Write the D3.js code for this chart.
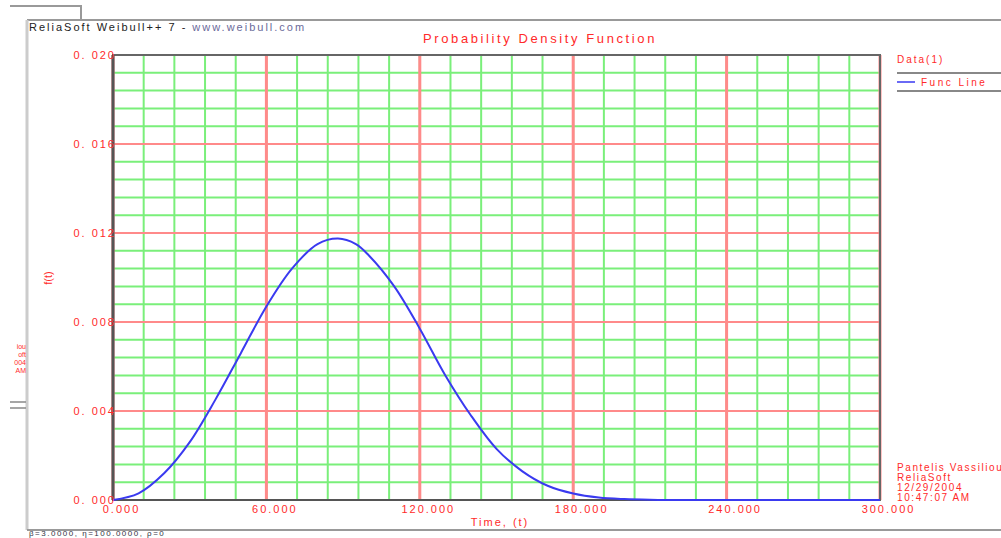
<!DOCTYPE html>
<html>
<head>
<meta charset="utf-8">
<script src="https://cdn.jsdelivr.net/npm/d3@7"></script>
<style>
  body { margin: 0; background: #fff; overflow: hidden; }
  text { font-family: "Liberation Sans", Arial, sans-serif; }
</style>
</head>
<body>
<div id="chart"></div>
<script>
// time values (t)
var times = [0, 10, 20, 30, 40, 50, 60, 70, 80, 88, 95, 100, 110, 120, 130, 140, 150,
             160, 170, 180, 190, 200, 210, 220, 240, 260, 280, 300];
// f(t) values
var density = [0, 0.0003, 0.0012, 0.0026, 0.0045, 0.0066, 0.0087, 0.0104, 0.0115, 0.01175,
               0.0115, 0.0110, 0.0096, 0.0077, 0.0056, 0.0038, 0.0023, 0.0013, 0.00064,
               0.00029, 0.00011, 0.00004, 0.00001, 0, 0, 0, 0, 0];
var xTicks = [0, 60, 120, 180, 240, 300];
var yTicks = [0, 0.004, 0.008, 0.012, 0.016, 0.020];
var legendItems = ["Func Line"];
var userInfo = ["Pantelis Vassiliou", "ReliaSoft", "12/29/2004", "10:47:07 AM"];

function init(){
    var w = 1001, h = 538;
    var left = 113, right = 880, top = 55, bottom = 500;
    var red = "#ff2a2a";

    var svg = d3.select("#chart").append("svg")
                .attr("width", w).attr("height", h);

    var x = d3.scaleLinear().domain([0, 300]).range([left, right]);
    var y = d3.scaleLinear().domain([0, 0.020]).range([bottom, top]);

    // window frame lines
    svg.append("path").attr("d", "M10,6H81V20").attr("fill", "none")
       .attr("stroke", "#999").attr("stroke-width", 2);
    svg.append("line").attr("x1", 27).attr("x2", w).attr("y1", 20).attr("y2", 20)
       .attr("stroke", "#999").attr("stroke-width", 2);
    svg.append("line").attr("x1", 27).attr("x2", 27).attr("y1", 20).attr("y2", 530)
       .attr("stroke", "#ccc").attr("stroke-width", 3);
    svg.append("line").attr("x1", 27).attr("x2", w).attr("y1", 530).attr("y2", 530)
       .attr("stroke", "#999").attr("stroke-width", 2);
    svg.append("line").attr("x1", 10).attr("x2", 26).attr("y1", 402).attr("y2", 402)
       .attr("stroke", "#888").attr("stroke-width", 1.5);
    svg.append("line").attr("x1", 10).attr("x2", 26).attr("y1", 408).attr("y2", 408)
       .attr("stroke", "#888").attr("stroke-width", 1.5);

    // header text
    var hdr = svg.append("text").attr("x", 29).attr("y", 31)
       .attr("font-size", 11).attr("letter-spacing", 2).attr("fill", "#222");
    hdr.append("tspan").text("ReliaSoft Weibull++ 7 - ");
    hdr.append("tspan").attr("fill", "#6a6a9a").text("www.weibull.com");

    svg.append("text").attr("x", 540).attr("y", 43).attr("text-anchor", "middle")
       .attr("font-size", 13).attr("letter-spacing", 2.6).attr("fill", red)
       .text("Probability Density Function");

    // minor grid
    var minorX = d3.range(0, 301, 12);
    var minorY = d3.range(0, 0.0201, 0.0008);
    var grid = svg.append("g");
    grid.selectAll("line.mx").data(minorX).enter().append("line")
        .attr("x1", function(d){ return x(d); }).attr("x2", function(d){ return x(d); })
        .attr("y1", top).attr("y2", bottom)
        .attr("stroke", "#7aef7a").attr("stroke-width", 2);
    grid.selectAll("line.my").data(minorY).enter().append("line")
        .attr("y1", function(d){ return y(d); }).attr("y2", function(d){ return y(d); })
        .attr("x1", left).attr("x2", right)
        .attr("stroke", "#7aef7a").attr("stroke-width", 2);
    // major grid
    grid.selectAll("line.Mx").data(xTicks).enter().append("line")
        .attr("x1", function(d){ return x(d); }).attr("x2", function(d){ return x(d); })
        .attr("y1", top).attr("y2", bottom)
        .attr("stroke", "#ff8a8a").attr("stroke-width", 3);
    grid.selectAll("line.My").data(yTicks).enter().append("line")
        .attr("y1", function(d){ return y(d); }).attr("y2", function(d){ return y(d); })
        .attr("x1", left).attr("x2", right)
        .attr("stroke", "#ff8a8a").attr("stroke-width", 2);

    // plot frame
    svg.append("rect").attr("x", left).attr("y", top)
       .attr("width", right - left).attr("height", bottom - top)
       .attr("fill", "none").attr("stroke", "#666").attr("stroke-width", 2);
    svg.append("line").attr("x1", left).attr("x2", left).attr("y1", top).attr("y2", bottom)
       .attr("stroke", "#555").attr("stroke-width", 3);
    svg.append("line").attr("x1", left).attr("x2", right).attr("y1", bottom).attr("y2", bottom)
       .attr("stroke", "#555").attr("stroke-width", 2);

    // curve
    var line = d3.line()
        .x(function(d){ return x(d[0]); })
        .y(function(d){ return y(d[1]); })
        .curve(d3.curveCatmullRom);
    svg.append("path").datum(d3.zip(times, density))
       .attr("fill", "none").attr("stroke", "#3a3af0").attr("stroke-width", 2)
       .attr("d", line);

    // axis labels
    var xAxis = d3.axisBottom(x).tickValues(xTicks).tickSize(0)
        .tickFormat(d3.format(".3f"));
    var gx = svg.append("g").attr("transform", "translate(8," + bottom + ")").call(xAxis);
    gx.select(".domain").remove();
    gx.selectAll("text").attr("fill", red).attr("font-size", 11)
      .attr("letter-spacing", 2).attr("dy", "0.95em").attr("font-family", null);

    var yAxis = d3.axisLeft(y).tickValues(yTicks).tickSize(0)
        .tickFormat(function(d){ return d3.format(".3f")(d).replace(".", ". "); });
    var gy = svg.append("g").attr("transform", "translate(" + (left + 6) + ",0)").call(yAxis);
    gy.select(".domain").remove();
    gy.selectAll("text").attr("fill", red).attr("font-size", 11)
      .attr("letter-spacing", 2).attr("font-family", null);

    svg.append("text").attr("x", 500).attr("y", 526).attr("text-anchor", "middle")
       .attr("font-size", 11).attr("letter-spacing", 2).attr("fill", red).text("Time, (t)");
    svg.append("text").attr("transform", "translate(52,278) rotate(-90)")
       .attr("text-anchor", "middle").attr("font-size", 11).attr("fill", red).text("f(t)");

    // clipped left info text
    var clipL = svg.append("clipPath").attr("id", "cl");
    clipL.append("rect").attr("x", 0).attr("y", 330).attr("width", 26).attr("height", 60);
    var lt = svg.append("g").attr("clip-path", "url(#cl)");
    lt.selectAll("text").data(userInfo).enter().append("text")
      .attr("x", 26).attr("text-anchor", "end")
      .attr("y", function(d, i){ return 349 + i * 8; })
      .attr("font-size", 7).attr("fill", red)
      .text(function(d){ return d.slice(-3); });

    // legend
    svg.append("text").attr("x", 897).attr("y", 63).attr("font-size", 10)
       .attr("letter-spacing", 2).attr("fill", red).text("Data(1)");
    svg.append("line").attr("x1", 897).attr("x2", w).attr("y1", 73).attr("y2", 73)
       .attr("stroke", "#888").attr("stroke-width", 2);
    svg.append("line").attr("x1", 897).attr("x2", w).attr("y1", 91).attr("y2", 91)
       .attr("stroke", "#888").attr("stroke-width", 2);
    var lg = svg.selectAll("g.leg").data(legendItems).enter().append("g")
       .attr("transform", function(d, i){ return "translate(897," + (82 + i * 18) + ")"; });
    lg.append("line").attr("x1", 0).attr("x2", 18).attr("stroke", "#6a6af5").attr("stroke-width", 2);
    lg.append("text").attr("x", 24).attr("y", 4).attr("font-size", 10)
      .attr("letter-spacing", 2.5).attr("fill", red).text(function(d){ return d; });

    // user info bottom right
    svg.selectAll("text.info").data(userInfo).enter().append("text")
       .attr("x", 897).attr("y", function(d, i){ return 471 + i * 10; })
       .attr("font-size", 10).attr("letter-spacing", 1.6).attr("fill", red)
       .text(function(d){ return d; });

    // status line
    svg.append("text").attr("x", 29).attr("y", 536).attr("font-size", 8)
       .attr("letter-spacing", 1.5).attr("fill", "#334")
       .text("β=3.0000, η=100.0000, ρ=0");
}
window.onload = init;
</script>
</body>
</html>
